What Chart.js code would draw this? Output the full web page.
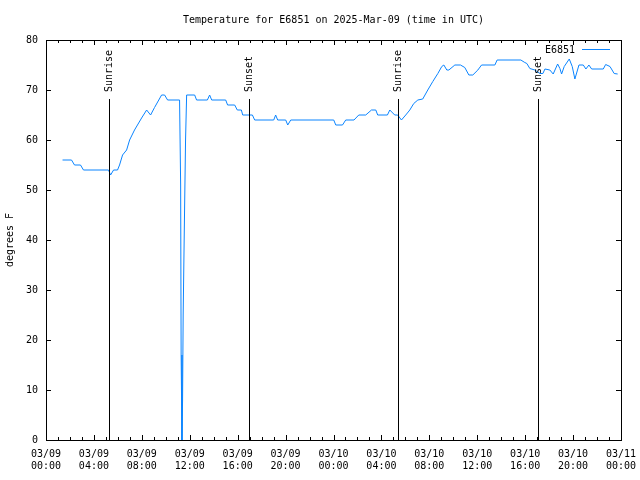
<!DOCTYPE html>
<html><head><meta charset="utf-8">
<script src="https://cdn.jsdelivr.net/npm/chart.js@4"></script>
<style>html,body{margin:0;padding:0;background:#fff}#wrap{width:640px;height:480px}</style>
</head><body><div id="wrap"><canvas id="c" width="640" height="480"></canvas></div>
<script>
const titleText = 'Temperature for E6851 on 2025-Mar-09 (time in UTC)';
const seriesName = 'E6851';
const yAxisLabel = 'degrees F';
// hours since 03/09 00:00 UTC
const hours = [1.38,2.13,2.38,2.88,3.13,5.22,5.39,5.64,5.97,6.14,6.39,6.73,6.98,7.39,7.98,8.40,8.73,9.06,9.65,9.90,10.15,11.15,11.24,11.28,11.35,11.40,11.45,11.55,11.65,11.74,12.41,12.57,13.47,13.66,13.83,15.00,15.16,15.75,15.97,16.31,16.42,17.23,17.42,19.01,19.17,19.34,20.01,20.18,20.43,24.02,24.19,24.75,25.02,25.71,26.11,26.69,27.17,27.53,27.69,28.50,28.70,29.11,29.36,29.67,30.03,30.37,30.70,31.04,31.45,31.87,32.29,32.71,33.04,33.21,33.46,33.63,34.13,34.60,34.96,35.30,35.63,36.05,36.36,37.47,37.66,39.64,39.97,40.14,40.39,40.81,41.23,41.48,41.65,42.06,42.34,42.71,42.90,43.04,43.26,43.68,43.93,44.15,44.49,44.85,45.07,45.32,45.55,46.52,46.72,47.08,47.43,47.72];
const temps = [56,56,55,55,54,54,53,54,54,55,57,58,60,62,64.4,66,65,66.5,69,69,68,68,51,17,0,8,25,43,60,69,69,68,68,69,68,68,67,67,66,66,65,65,64,64,65,64,64,63,64,64,63,63,64,64,65,65,66,66,65,65,66,65,65,64,65,66,67.3,68,68.2,70,71.7,73.3,74.7,75,74,74,75,75,74.5,73,73,74,75,75,76,76,75.5,75.3,74.3,74,73.3,73.3,74.2,74,73.2,75.2,74.3,73.2,74.7,76.2,74.7,72.2,75,75,74.2,75,74.2,74.2,75.1,74.7,73.3,73.2];
const sunTimes = [5.30, 16.92, 29.36, 41.06];
const sunLabels = ['Sunrise', 'Sunset', 'Sunrise', 'Sunset'];
const sunLineTop = 68.2;
const xMin = 0, xMax = 48, xTickStep = 4, xMinorStep = 1;
const yMin = 0, yMax = 80, yTickStep = 10;
const startMonth = '03', startDay = 9;

const FONT = "'DejaVu Sans Mono', 'Liberation Mono', monospace";
const LINE_COLOR = '#0a84ff';

function two(n){ return (n < 10 ? '0' : '') + n; }

const framePlugin = {
  id: 'framePlugin',
  afterDatasetsDraw(chart) {
    const ctx = chart.ctx, a = chart.chartArea;
    const xs = chart.scales.x, ys = chart.scales.y;
    ctx.save();
    ctx.strokeStyle = '#000';
    ctx.lineWidth = 1;
    ctx.beginPath();
    sunTimes.forEach(t => {
      const px = Math.round(xs.getPixelForValue(t)) + 0.5;
      ctx.moveTo(px, ys.getPixelForValue(yMin));
      ctx.lineTo(px, ys.getPixelForValue(sunLineTop));
    });
    ctx.stroke();
    ctx.strokeRect(Math.round(a.left) + 0.5, Math.round(a.top) + 0.5, Math.round(a.right - a.left), Math.round(a.bottom - a.top));
    ctx.beginPath();
    for (let v = xMin; v <= xMax; v += xMinorStep) {
      const px = Math.round(xs.getPixelForValue(v)) + 0.5;
      const len = (v % xTickStep === 0) ? 5 : 3;
      ctx.moveTo(px, a.bottom); ctx.lineTo(px, a.bottom - len);
      ctx.moveTo(px, a.top); ctx.lineTo(px, a.top + len);
    }
    ys.ticks.forEach(tk => {
      const py = Math.round(ys.getPixelForValue(tk.value)) + 0.5;
      ctx.moveTo(a.left, py); ctx.lineTo(a.left + 5, py);
      ctx.moveTo(a.right, py); ctx.lineTo(a.right - 5, py);
    });
    ctx.stroke();
    ctx.fillStyle = '#000';
    ctx.font = '10px ' + FONT;
    ctx.textAlign = 'left';
    ctx.textBaseline = 'middle';
    sunTimes.forEach((t, i) => {
      const px = Math.round(xs.getPixelForValue(t)) + 0.5;
      ctx.save();
      ctx.translate(px, ys.getPixelForValue(sunLineTop) - 7);
      ctx.rotate(-Math.PI / 2);
      ctx.fillText(sunLabels[i], 0, 0);
      ctx.restore();
    });
    ctx.textAlign = 'right';
    ctx.fillText(seriesName, a.right - 46, a.top + 10);
    ctx.strokeStyle = LINE_COLOR;
    ctx.beginPath();
    ctx.moveTo(a.right - 39, a.top + 9.5);
    ctx.lineTo(a.right - 11, a.top + 9.5);
    ctx.stroke();
    ctx.restore();
  }
};

new Chart(document.getElementById('c'), {
  type: 'line',
  data: {
    datasets: [{
      label: seriesName,
      data: hours.map((h, i) => ({x: h, y: temps[i]})),
      borderColor: LINE_COLOR,
      borderWidth: 1,
      pointRadius: 0,
      tension: 0,
      fill: false
    }]
  },
  options: {
    responsive: false,
    devicePixelRatio: 1,
    animation: false,
    layout: {padding: {left: 0, right: 19, top: 0, bottom: 0}},
    plugins: {
      legend: {display: false},
      tooltip: {enabled: false},
      title: {
        display: true, text: titleText, color: '#000', fullSize: false,
        font: {family: FONT, size: 10, weight: 'normal', lineHeight: 1.2},
        padding: {top: 14, bottom: 14}
      }
    },
    scales: {
      x: {
        type: 'linear', min: xMin, max: xMax,
        grid: {display: false, drawTicks: false},
        border: {display: false},
        ticks: {
          stepSize: xTickStep, autoSkip: false, maxRotation: 0, minRotation: 0,
          padding: 8, color: '#000',
          font: {family: FONT, size: 10, lineHeight: 1.2},
          callback: v => {
            const d = startDay + Math.floor(v / 24);
            const h = v % 24;
            return [startMonth + '/' + two(d), two(h) + ':00'];
          }
        },
        afterFit(s) { s.height = 40; s.paddingLeft = 0; s.paddingRight = 0; }
      },
      y: {
        min: yMin, max: yMax,
        grid: {display: false, drawTicks: false},
        border: {display: false},
        ticks: {stepSize: yTickStep, padding: 8, color: '#000', font: {family: FONT, size: 10}},
        title: {display: true, text: yAxisLabel, color: '#000', font: {family: FONT, size: 10}, padding: {top: 4, bottom: 0}},
        afterFit(s) { s.width = 46; s.paddingTop = 0; s.paddingBottom = 0; }
      }
    }
  },
  plugins: [framePlugin]
});
</script>
</body></html>
